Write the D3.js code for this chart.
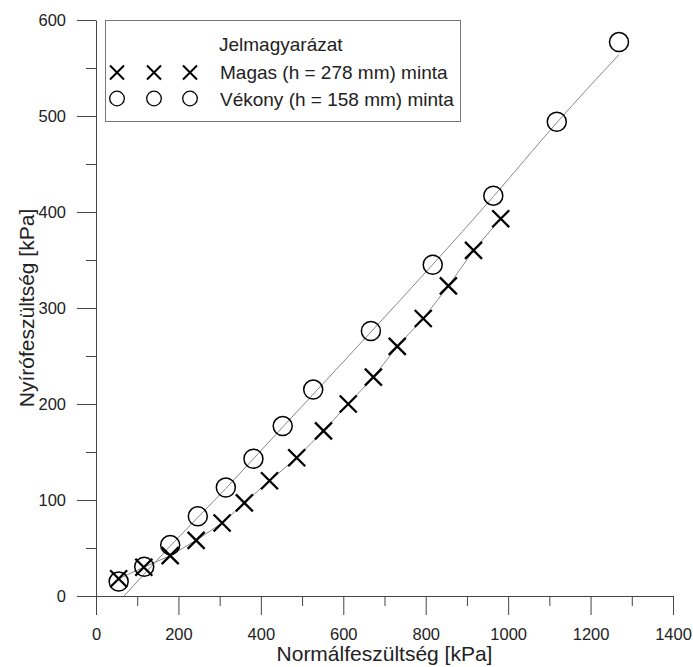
<!DOCTYPE html>
<html>
<head>
<meta charset="utf-8">
<script src="https://cdn.jsdelivr.net/npm/d3@7"></script>
<style>
  body { margin: 0; background: #fff; }
  svg text { font-family: "Liberation Sans", Arial, sans-serif; fill: #222; }
</style>
</head>
<body>
<svg id="chart"></svg>
<script>
// Magas (h = 278 mm) minta
const magasX = [55, 116, 180, 243, 306, 360, 421, 487, 552, 612, 673, 731, 794, 855, 916, 982];
const magasY = [18, 30, 42, 58, 76, 97, 120, 144, 172, 200, 228, 260, 289, 323, 360, 393];
// Vékony (h = 158 mm) minta
const vekonyX = [55, 117, 180, 247, 315, 382, 453, 527, 667, 817, 964, 1118, 1269];
const vekonyY = [15, 30.5, 53, 83, 113, 143, 177, 215, 276, 345, 417, 494, 577];
// trend line of the thin sample
const fitX = [68, 180, 315, 453, 667, 964, 1118, 1269];
const fitY = [0, 52, 112, 176, 275, 416, 493, 564];

const xMajor = [0, 200, 400, 600, 800, 1000, 1200, 1400];
const xMinor = [100, 300, 500, 700, 900, 1100, 1300];
const yMajor = [0, 100, 200, 300, 400, 500, 600];
const yMinor = [50, 150, 250, 350, 450, 550];

const legendTitle = "Jelmagyarázat";
const legendLabels = ["Magas (h = 278 mm) minta", "Vékony (h = 158 mm) minta"];

const W = 693, H = 667;
const svg = d3.select("#chart").attr("width", W).attr("height", H);

const x = d3.scaleLinear().domain([0, 1400]).range([96, 673]);
const y = d3.scaleLinear().domain([0, 600]).range([596, 20]);

const axisColor = "#444";
const fmt = d3.format("d");

// axes
svg.append("g").attr("transform", `translate(0,${y(0)})`)
  .call(d3.axisBottom(x).tickValues(xMajor).tickFormat(fmt).tickSize(19).tickPadding(13).tickSizeOuter(0));
svg.append("g").attr("transform", `translate(0,${y(0)})`)
  .call(d3.axisBottom(x).tickValues(xMinor).tickSize(10).tickFormat("").tickSizeOuter(0))
  .select(".domain").remove();
svg.append("g").attr("transform", `translate(${x(0)},0)`)
  .call(d3.axisLeft(y).tickValues(yMajor).tickFormat(fmt).tickSize(19).tickPadding(11).tickSizeOuter(0));
svg.append("g").attr("transform", `translate(${x(0)},0)`)
  .call(d3.axisLeft(y).tickValues(yMinor).tickSize(10).tickFormat("").tickSizeOuter(0))
  .select(".domain").remove();

svg.selectAll(".domain, .tick line").attr("stroke", axisColor).attr("stroke-width", 1);
svg.selectAll(".tick text").attr("font-size", 16.5).attr("fill", "#222")
  .attr("font-family", '"Liberation Sans", Arial, sans-serif');

// axis titles
svg.append("text")
  .attr("x", (x(0) + x(1400)) / 2).attr("y", 661)
  .attr("text-anchor", "middle").attr("font-size", 21)
  .text("Normálfeszültség [kPa]");
svg.append("text")
  .attr("transform", `translate(34,${(y(0) + y(600)) / 2}) rotate(-90)`)
  .attr("text-anchor", "middle").attr("font-size", 21)
  .text("Nyírófeszültség [kPa]");

// lines
const magasPts = magasX.map((d, i) => [d, magasY[i]]);
const vekonyPts = vekonyX.map((d, i) => [d, vekonyY[i]]);
const fitPts = fitX.map((d, i) => [d, fitY[i]]);

const lineLin = d3.line().x(d => x(d[0])).y(d => y(d[1]));
const lineSmooth = d3.line().x(d => x(d[0])).y(d => y(d[1])).curve(d3.curveMonotoneX);

svg.append("path").datum(fitPts).attr("d", lineSmooth)
  .attr("fill", "none").attr("stroke", "#888").attr("stroke-width", 1);
svg.append("path").datum(magasPts).attr("d", lineLin)
  .attr("fill", "none").attr("stroke", "#888").attr("stroke-width", 1);

// markers
function cross(sel, s, w) {
  sel.append("path")
    .attr("d", `M${-s},${-s}L${s},${s}M${-s},${s}L${s},${-s}`)
    .attr("stroke", "#000").attr("stroke-width", w).attr("fill", "none");
}

svg.append("g").selectAll("g").data(vekonyPts).enter().append("circle")
  .attr("cx", d => x(d[0])).attr("cy", d => y(d[1])).attr("r", 9.5)
  .attr("fill", "none").attr("stroke", "#000").attr("stroke-width", 1.5);

svg.append("g").selectAll("g").data(magasPts).enter().append("g")
  .attr("transform", d => `translate(${x(d[0])},${y(d[1])})`)
  .call(g => cross(g, 8.5, 2.3));

// legend
const leg = svg.append("g");
leg.append("rect").attr("x", 105.5).attr("y", 20.5).attr("width", 355).attr("height", 101)
  .attr("fill", "#fff").attr("stroke", "#777").attr("stroke-width", 1);
leg.append("text").attr("x", 219).attr("y", 51).attr("font-size", 19).text(legendTitle);

const legX = [117, 154, 190];
leg.selectAll(".lx").data(legX).enter().append("g")
  .attr("transform", d => `translate(${d},72.5)`)
  .call(g => cross(g, 7, 2));
leg.selectAll(".lo").data(legX).enter().append("circle")
  .attr("cx", d => d).attr("cy", 98.5).attr("r", 7.3)
  .attr("fill", "none").attr("stroke", "#000").attr("stroke-width", 1.3);

leg.selectAll(".lt").data(legendLabels).enter().append("text")
  .attr("x", 220).attr("y", (d, i) => 79 + i * 27)
  .attr("font-size", 19).text(d => d);
</script>
</body>
</html>
